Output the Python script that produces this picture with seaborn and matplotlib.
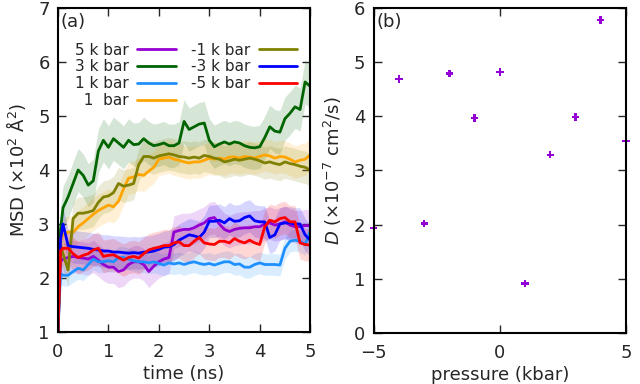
import numpy as np
import pandas as pd
import matplotlib
matplotlib.use("Agg")
import matplotlib.pyplot as plt
import seaborn as sns

# ============================
#  DATA
# ============================
time_ns = [0.0, 0.05, 0.1, 0.2, 0.3, 0.4, 0.5, 0.6, 0.7, 0.8, 0.9,
           1.0, 1.1, 1.2, 1.3, 1.4, 1.5, 1.6, 1.7, 1.8, 1.9,
           2.0, 2.1, 2.2, 2.3, 2.4, 2.5, 2.6, 2.7, 2.8, 2.9,
           3.0, 3.1, 3.2, 3.3, 3.4, 3.5, 3.6, 3.7, 3.8, 3.9,
           4.0, 4.1, 4.2, 4.3, 4.4, 4.5, 4.6, 4.7, 4.8, 4.9, 5.0]

msd_p5k = [1.0, 2.30, 2.35, 2.38, 2.40, 2.38, 2.37, 2.35, 2.40, 2.33, 2.25,
           2.20, 2.20, 2.12, 2.15, 2.25, 2.30, 2.30, 2.25, 2.12, 2.22,
           2.30, 2.35, 2.38, 2.85, 2.88, 2.90, 2.90, 2.93, 2.98, 3.02,
           3.10, 3.12, 3.00, 2.90, 2.86, 2.90, 2.92, 2.93, 2.93, 2.95,
           2.95, 3.00, 3.02, 2.98, 3.00, 3.04, 2.98, 2.95, 2.95, 2.97, 2.97]
msd_p3k = [1.0, 2.90, 3.30, 3.50, 3.75, 4.00, 3.90, 3.72, 3.80, 4.35, 4.55,
           4.42, 4.58, 4.50, 4.42, 4.55, 4.47, 4.48, 4.58, 4.50, 4.45,
           4.47, 4.50, 4.45, 4.45, 4.50, 4.90, 4.75, 4.80, 4.85, 4.87,
           4.55, 4.43, 4.48, 4.52, 4.48, 4.52, 4.50, 4.45, 4.42, 4.41,
           4.43, 4.60, 4.80, 4.72, 4.70, 4.95, 5.05, 5.17, 5.12, 5.63, 5.55]
msd_p1k = [1.0, 2.08, 2.05, 2.05, 2.12, 2.18, 2.15, 2.25, 2.35, 2.30, 2.30,
           2.32, 2.30, 2.38, 2.38, 2.35, 2.32, 2.30, 2.30, 2.28, 2.30,
           2.27, 2.24, 2.28, 2.26, 2.28, 2.25, 2.28, 2.30, 2.27, 2.25,
           2.27, 2.24, 2.27, 2.30, 2.30, 2.25, 2.26, 2.20, 2.20, 2.25,
           2.28, 2.25, 2.25, 2.25, 2.24, 2.55, 2.68, 2.70, 2.68, 2.62, 2.85]
msd_1bar = [1.0, 2.70, 2.80, 2.85, 2.85, 2.95, 3.02, 3.10, 3.18, 3.25, 3.30,
            3.35, 3.32, 3.42, 3.65, 3.85, 3.87, 3.92, 3.90, 3.98, 4.05,
            4.20, 4.22, 4.24, 4.20, 4.18, 4.15, 4.13, 4.15, 4.15, 4.18,
            4.22, 4.20, 4.22, 4.20, 4.24, 4.24, 4.22, 4.25, 4.24, 4.22,
            4.25, 4.28, 4.26, 4.22, 4.25, 4.24, 4.20, 4.15, 4.18, 4.20, 4.28]
msd_m1k = [1.0, 2.60, 2.45, 2.15, 3.10, 3.20, 3.20, 3.22, 3.25, 3.40, 3.50,
           3.52, 3.58, 3.75, 3.70, 3.72, 3.75, 4.10, 4.25, 4.25, 4.22,
           4.26, 4.28, 4.30, 4.28, 4.25, 4.24, 4.22, 4.24, 4.22, 4.27,
           4.25, 4.22, 4.20, 4.15, 4.17, 4.20, 4.18, 4.20, 4.22, 4.20,
           4.17, 4.13, 4.15, 4.12, 4.10, 4.15, 4.12, 4.10, 4.07, 4.05, 4.00]
msd_m3k = [1.0, 2.70, 3.00, 2.60, 2.58, 2.57, 2.56, 2.55, 2.53, 2.52, 2.50,
           2.50, 2.48, 2.48, 2.47, 2.46, 2.47, 2.46, 2.48, 2.48, 2.50,
           2.53, 2.57, 2.58, 2.62, 2.70, 2.75, 2.80, 2.78, 2.75, 2.85,
           3.05, 3.05, 3.07, 3.02, 3.10, 3.05, 3.06, 3.12, 3.15, 3.06,
           3.04, 3.04, 2.75, 2.80, 3.00, 3.02, 3.02, 3.00, 3.00, 2.80, 2.70]
msd_m5k = [1.0, 2.50, 2.55, 2.55, 2.45, 2.38, 2.42, 2.45, 2.52, 2.55, 2.40,
           2.42, 2.43, 2.38, 2.33, 2.38, 2.40, 2.37, 2.45, 2.52, 2.55,
           2.57, 2.60, 2.60, 2.65, 2.67, 2.60, 2.60, 2.68, 2.75, 2.65,
           2.63, 2.62, 2.68, 2.68, 2.65, 2.73, 2.68, 2.65, 2.70, 2.65,
           2.62, 2.95, 3.07, 3.04, 3.10, 3.12, 3.04, 3.04, 2.65, 2.62, 2.61]

series_labels = ["5 k bar", "3 k bar", "1 k bar", "  1  bar",
                 "-1 k bar", "-3 k bar", "-5 k bar"]
series_values = [msd_p5k, msd_p3k, msd_p1k, msd_1bar, msd_m1k, msd_m3k, msd_m5k]
series_colors = ["#9400d3", "#006400", "#1e90ff", "#ffa500",
                 "#808000", "#0000ff", "#ff0000"]
# rough half-width of the noisy raw-data band behind each smoothed line
band_halfwidth = [0.30, 0.40, 0.20, 0.30, 0.30, 0.30, 0.30]

pressure_kbar = [-5, -4, -3, -2, -1, 0, 1, 2, 3, 4, 5]
diff_coef = [1.94, 4.69, 2.02, 4.79, 3.97, 4.82, 0.91, 3.29, 3.99, 5.78, 3.54]

# ============================
#  STYLE
# ============================
sns.set_style("ticks")
plt.rcParams["font.family"] = ["DejaVu Sans"]
plt.rcParams["mathtext.fontset"] = "dejavusans"

fig = plt.figure(figsize=(6.4, 3.84), dpi=100)
ax1 = fig.add_axes([0.0906, 0.1354, 0.394, 0.8438])
ax2 = fig.add_axes([0.584, 0.1328, 0.394, 0.8464])

# ----------------------------------------------------
# (a) MSD vs time
# ----------------------------------------------------
t = np.array(time_ns)
for lab, vals, col, hw in zip(series_labels, series_values, series_colors, band_halfwidth):
    v = np.array(vals)
    ax1.fill_between(t, v - hw, v + hw, color=col, alpha=0.16, linewidth=0)
    sns.lineplot(x=t, y=v, color=col, linewidth=2, label=lab, ax=ax1)

ax1.set_xlim(0, 5)
ax1.set_ylim(1, 7)
ax1.set_xticks(range(0, 6))
ax1.set_yticks(range(1, 8))
ax1.set_xlabel("time (ns)", fontsize=13, labelpad=3)
ax1.set_ylabel("MSD (\u00d710$^2$ \u00c5$^2$)", fontsize=13, labelpad=7)
ax1.text(0.01, 0.985, "(a)", transform=ax1.transAxes, fontsize=13,
         ha="left", va="top")
ax1.legend(ncol=2, markerfirst=False, frameon=False, fontsize=11,
           loc="upper left", bbox_to_anchor=(0.065, 0.893),
           handlelength=2.5, handletextpad=0.55, columnspacing=1.0,
           labelspacing=0.12, borderaxespad=0, borderpad=0)

# ----------------------------------------------------
# (b) diffusion coefficient vs pressure
# ----------------------------------------------------
df_b = pd.DataFrame({"pressure": pressure_kbar, "D": diff_coef})
sns.scatterplot(data=df_b, x="pressure", y="D", marker="P", s=28,
                color="#9400d3", edgecolor="none", ax=ax2, clip_on=False)
ax2.set_xlim(-5, 5)
ax2.set_ylim(0, 6)
ax2.set_xticks([-5, 0, 5])
ax2.set_yticks(range(0, 7))
ax2.set_xlabel("pressure (kbar)", fontsize=13, labelpad=3)
ax2.set_ylabel("$D$ (\u00d710$^{-7}$ cm$^2$/s)", fontsize=13, labelpad=7)
ax2.text(0.01, 0.985, "(b)", transform=ax2.transAxes, fontsize=13,
         ha="left", va="top")

for ax in (ax1, ax2):
    ax.tick_params(direction="in", top=True, right=True, length=6,
                   width=1, labelsize=13)
    ax.tick_params(axis="x", pad=8)
    ax.tick_params(axis="y", pad=6)
    for sp in ax.spines.values():
        sp.set_linewidth(1.5)
        sp.set_color("black")
        sp.set_visible(True)

fig.savefig("out.png", dpi=100)
